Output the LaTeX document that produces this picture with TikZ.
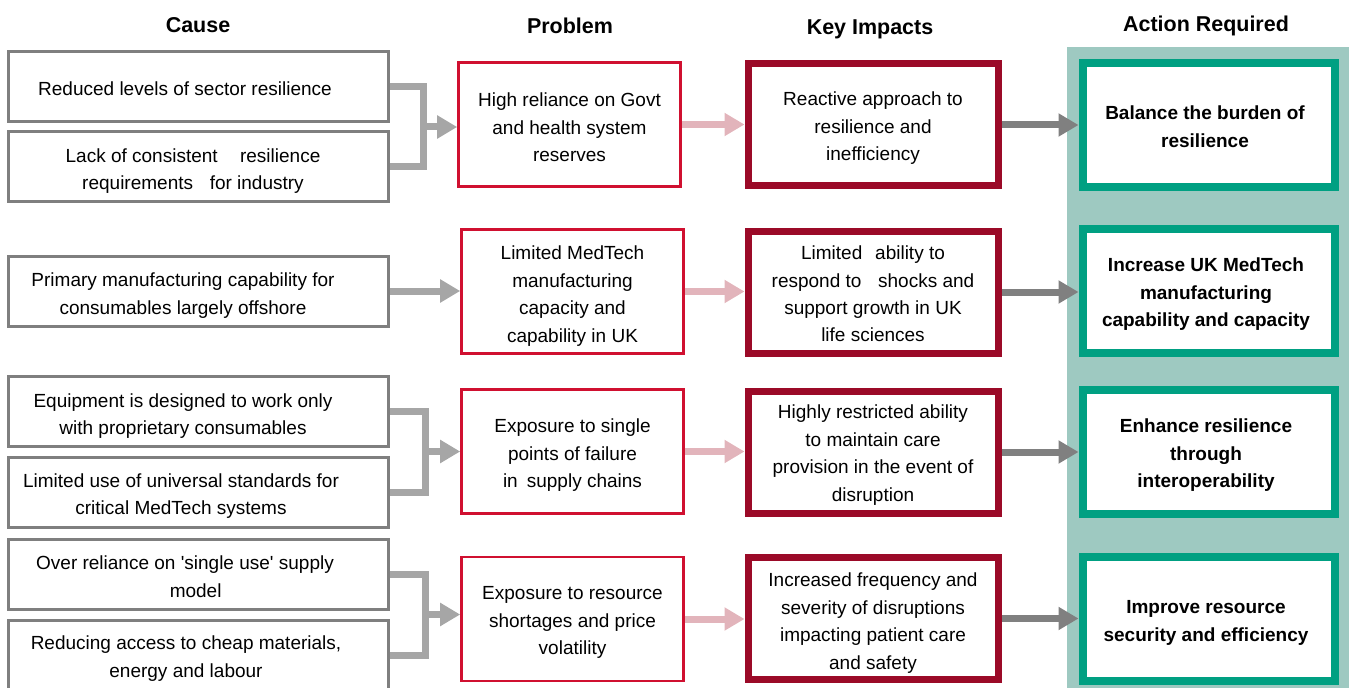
\documentclass[tikz,border=0pt]{standalone}
\usepackage{fontspec}
\setmainfont{Liberation Sans}
\usetikzlibrary{arrows.meta,calc}
\definecolor{causegray}{RGB}{127,127,127}
\definecolor{brgray}{RGB}{166,166,166}
\definecolor{arrgray}{RGB}{128,128,128}
\definecolor{pinkc}{RGB}{226,180,187}
\definecolor{probred}{RGB}{208,16,48}
\definecolor{impred}{RGB}{155,10,40}
\definecolor{actgreen}{RGB}{0,160,130}
\definecolor{tealbg}{RGB}{158,201,193}
\begin{document}
\begin{tikzpicture}[x=0.75pt,y=-0.75pt,
  body/.style={font=\fontsize{14.25pt}{20.6pt}\selectfont, align=center, inner sep=0pt},
  boldbody/.style={body, font=\fontsize{14.25pt}{20.6pt}\selectfont\bfseries},
  hdr/.style={font=\fontsize{16.1pt}{19pt}\selectfont\bfseries, inner sep=0pt, anchor=base},
  causebox/.style={draw=causegray, line width=2.25pt, minimum width=285pt, minimum height=52.5pt, inner sep=0pt},
  probbox/.style={draw=probred, line width=1.9pt, minimum width=166.5pt, minimum height=93pt, inner sep=0pt},
  impbox/.style={draw=impred, line width=5.25pt, minimum width=187.5pt, minimum height=91.5pt, inner sep=0pt},
  actbox/.style={draw=actgreen, fill=white, line width=6pt, minimum width=189pt, minimum height=93pt, inner sep=0pt},
  bracket/.style={draw=brgray, line width=5.25pt},
  brarrow/.style={bracket, -{Triangle[length=15pt,width=16.5pt]}},
  pinkarrow/.style={draw=pinkc, line width=5.25pt, -{Triangle[length=15pt,width=16.5pt]}},
  grayarrow/.style={draw=arrgray, line width=5.25pt, -{Triangle[length=15pt,width=16.5pt]}}
]
\useasboundingbox (0,0) rectangle (1349,688);
% teal background
\fill[tealbg] (1067,47) rectangle (1349,700);

% headers
\node[hdr] (hcause) at (198,33) {Cause};
\node[hdr] (hprob) at (570,34) {Problem};
\node[hdr] (himp) at (870,35) {Key Impacts};
\node[hdr] (hact) at (1206,32) {Action Required};

% cause boxes
\node[causebox] (c1) at (198,87) {};
\node[causebox] (c2) at (198,167) {};
\node[causebox] (c3) at (198,291) {};
\node[causebox] (c4) at (198,411) {};
\node[causebox] (c5) at (198,492) {};
\node[causebox] (c6) at (198,574) {};
\node[causebox] (c7) at (198,655) {};

\node[body] (c1t) at (185,89) {Reduced levels of sector resilience};
\node[body] (c2t) at (193,171) {Lack of consistent \hspace{0.9em}resilience\\requirements \hspace{0.6em}for industry};
\node[body] (c3t) at (183,295.5) {Primary manufacturing capability for\\consumables largely offshore};
\node[body] (c4t) at (183,416) {Equipment is designed to work only\\with proprietary consumables};
\node[body] (c5t) at (181,496) {Limited use of universal standards for\\critical MedTech systems};
\node[body] (c6t) at (185,576.5) {Over reliance on \textquotesingle single use\textquotesingle{} supply\\\hspace*{16pt}model};
\node[body] (c7t) at (186,658.5) {Reducing access to cheap materials,\\energy and labour};

% problem boxes
\node[probbox] (p1) at (569.5,124.5) {};
\node[probbox] (p2) at (572.5,291.5) {};
\node[probbox] (p3) at (572.5,451.5) {};
\node[probbox] (p4) at (572.5,619) {};
\node[body] (p1t) at (569.5,127.5) {High reliance on Govt\\and health system\\reserves};
\node[body] (p2t) at (572.5,296) {Limited MedTech\\manufacturing\\capacity and\\capability in UK};
\node[body] (p3t) at (572.5,455.5) {Exposure to single\\points of failure\\in \hspace{0.2em}supply chains};
\node[body] (p4t) at (572.5,622.5) {Exposure to resource\\shortages and price\\volatility};

% impact boxes
\node[impbox] (i1) at (873,125) {};
\node[impbox] (i2) at (873,292) {};
\node[impbox] (i3) at (873,452) {};
\node[impbox] (i4) at (873,618.5) {};
\node[body] (i1t) at (873,128.5) {Reactive approach to\\resilience and\\inefficiency};
\node[body] (i2t) at (873,294) {Limited \hspace{0.4em}ability to\\respond to \hspace{0.6em}shocks and\\support growth in UK\\life sciences};
\node[body] (i3t) at (873,455) {Highly restricted ability\\to maintain care\\provision in the event of\\disruption};
\node[body] (i4t) at (873,623) {Increased frequency and\\severity of disruptions\\impacting patient care\\and safety};

% action boxes
\node[actbox] (a1) at (1208.5,125.5) {};
\node[actbox] (a2) at (1208.5,291) {};
\node[actbox] (a3) at (1208.5,452) {};
\node[actbox] (a4) at (1208.5,619) {};
\node[boldbody] (a1t) at (1205,126.5) {Balance the burden of\\resilience};
\node[boldbody] (a2t) at (1206,294.5) {Increase UK MedTech\\manufacturing\\capability and capacity};
\node[boldbody] (a3t) at (1206,455.5) {Enhance resilience\\through\\interoperability};
\node[boldbody] (a4t) at (1206,623) {Improve resource\\security and efficiency};

% brackets cause -> problem
\draw[bracket] (c1.east) -- ++(34,0) |- (c2.east);
\coordinate (m1) at ($(c1.east)!0.5!(c2.east)+(34,0)$);
\draw[brarrow] (m1) -- (m1 -| p1.west);

\draw[brarrow] (c3.east) -- (c3.east -| p2.west);

\draw[bracket] (c4.east) -- ++(36,0) |- (c5.east);
\coordinate (m3) at ($(c4.east)!0.5!(c5.east)+(36,0)$);
\draw[brarrow] (m3) -- (m3 -| p3.west);

\draw[bracket] (c6.east) -- ++(36,0) |- (c7.east);
\coordinate (m4) at ($(c6.east)!0.5!(c7.east)+(36,0)$);
\draw[brarrow] (m4) -- (m4 -| p4.west);

% problem -> impact
\draw[pinkarrow] (p1.east) -- (p1.east -| i1.west);
\draw[pinkarrow] (p2.east) -- (p2.east -| i2.west);
\draw[pinkarrow] (p3.east) -- (p3.east -| i3.west);
\draw[pinkarrow] (p4.east) -- (p4.east -| i4.west);

% impact -> action
\draw[grayarrow] (i1.east) -- (i1.east -| a1.west);
\draw[grayarrow] (i2.east) -- (i2.east -| a2.west);
\draw[grayarrow] (i3.east) -- (i3.east -| a3.west);
\draw[grayarrow] (i4.east) -- (i4.east -| a4.west);
\end{tikzpicture}
\end{document}
